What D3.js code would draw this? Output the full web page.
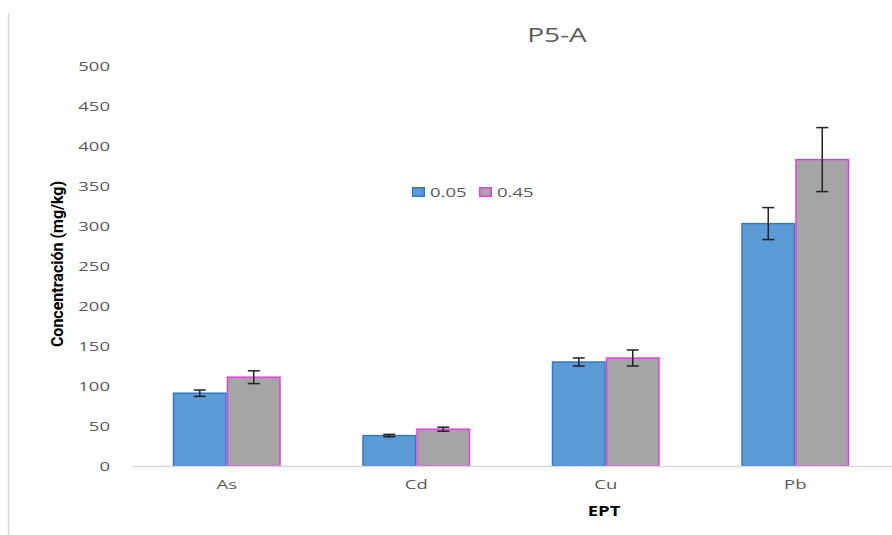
<!DOCTYPE html>
<html>
<head>
<meta charset="utf-8">
<script src="https://cdn.jsdelivr.net/npm/d3@7"></script>
<style>
  html, body { margin: 0; padding: 0; background: #fff; }
  svg { display: block; }
</style>
</head>
<body>
<svg id="chart" width="892" height="535"></svg>
<script>
// Concentration of potentially toxic elements (EPT) at site P5-A
const categories = ["As", "Cd", "Cu", "Pb"];
const seriesNames = ["0.05", "0.45"];
const values005 = [91, 38, 130, 303];
const values045 = [111, 46, 135, 383];
const errors005 = [4, 1.5, 5, 20];
const errors045 = [8, 2.5, 10, 40];
const yTicks = [0, 50, 100, 150, 200, 250, 300, 350, 400, 450, 500];

const fills = ["#5b9bd5", "#a5a5a5"];
const strokes = ["#2e7bc9", "#e23fe0"];

const FONT = "'Open Sans', 'Noto Sans', sans-serif";
const WIDE = 1.37; // horizontal stretch of the text glyphs

const svg = d3.select("#chart");
const W = 892, H = 535;
const plot = { left: 132, right: 890, top: 66, bottom: 466 };

const x = d3.scaleBand().domain(categories).range([plot.left, plot.right]);
const y = d3.scaleLinear().domain([0, 500]).range([plot.bottom, plot.top]);
const barW = 54;
const xSub = d3.scaleBand().domain(seriesNames).range([-barW, barW]);

// stretched text placed at (px, py)
function wideText(parent, px, py, str, opts) {
  const t = parent.append("text")
    .attr("transform", `translate(${px},${py}) scale(${WIDE},1)`)
    .attr("font-family", FONT)
    .attr("font-size", opts.size)
    .attr("fill", opts.fill || "#595959")
    .attr("text-anchor", opts.anchor || "start")
    .text(str);
  if (opts.weight) t.attr("font-weight", opts.weight);
  return t;
}

// outer frame (only the left edge falls inside the view)
svg.append("line")
  .attr("x1", 8.5).attr("x2", 8.5).attr("y1", 13).attr("y2", H)
  .attr("stroke", "#d9d9d9").attr("stroke-width", 1.5);

// title
wideText(svg, 557, 42, "P5-A", { size: 20.5, anchor: "middle" });

// y axis tick labels
const yAxis = d3.axisLeft(y).tickValues(yTicks).tickSize(0).tickPadding(0);
const gy = svg.append("g").attr("transform", `translate(${110},0)`).call(yAxis);
gy.select(".domain").remove();
gy.selectAll("text")
  .attr("font-family", FONT)
  .attr("font-size", 13.5)
  .attr("fill", "#595959")
  .attr("transform", `scale(${WIDE},1)`);

// bars
const data = categories.map((c, i) => ({
  cat: c,
  items: [
    { s: seriesNames[0], v: values005[i], e: errors005[i], k: 0 },
    { s: seriesNames[1], v: values045[i], e: errors045[i], k: 1 }
  ]
}));

const groups = svg.append("g").selectAll("g")
  .data(data).join("g")
  .attr("transform", d => `translate(${x(d.cat) + x.bandwidth() / 2},0)`);

groups.selectAll("rect")
  .data(d => d.items).join("rect")
  .attr("x", d => xSub(d.s) + 0.75)
  .attr("width", xSub.bandwidth() - 1.5)
  .attr("y", d => y(d.v))
  .attr("height", d => y(0) - y(d.v))
  .attr("fill", d => fills[d.k])
  .attr("stroke", d => strokes[d.k])
  .attr("stroke-width", 1.5);

// x axis line
svg.append("line")
  .attr("x1", plot.left).attr("x2", W)
  .attr("y1", y(0) + 0.5).attr("y2", y(0) + 0.5)
  .attr("stroke", "#d9d9d9").attr("stroke-width", 1.5);

// error bars
const eb = groups.selectAll("g.err")
  .data(d => d.items).join("g").attr("class", "err")
  .attr("transform", d => `translate(${xSub(d.s) + xSub.bandwidth() / 2},0)`);
eb.append("line")
  .attr("x1", 0).attr("x2", 0)
  .attr("y1", d => y(d.v + d.e)).attr("y2", d => y(d.v - d.e))
  .attr("stroke", "#222").attr("stroke-width", 1.5);
eb.append("line")
  .attr("x1", -6).attr("x2", 6)
  .attr("y1", d => y(d.v + d.e)).attr("y2", d => y(d.v + d.e))
  .attr("stroke", "#222").attr("stroke-width", 1.5);
eb.append("line")
  .attr("x1", -6).attr("x2", 6)
  .attr("y1", d => y(d.v - d.e)).attr("y2", d => y(d.v - d.e))
  .attr("stroke", "#222").attr("stroke-width", 1.5);

// x axis category labels
const xAxis = d3.axisBottom(x).tickSize(0).tickPadding(0);
const gx = svg.append("g").attr("transform", `translate(0,${y(0) + 13})`).call(xAxis);
gx.select(".domain").remove();
gx.selectAll("text")
  .attr("font-family", FONT)
  .attr("font-size", 13.5)
  .attr("fill", "#595959")
  .attr("transform", `scale(${WIDE},1)`);

// axis titles
wideText(svg, 604, 516, "EPT", { size: 13.5, anchor: "middle", weight: "bold", fill: "#000" });

svg.append("text")
  .attr("transform", "translate(63,264) rotate(-90)")
  .attr("text-anchor", "middle")
  .attr("font-family", "'Liberation Sans Narrow', 'Roboto', sans-serif")
  .attr("font-weight", "bold")
  .attr("font-size", 16)
  .attr("fill", "#000")
  .text("Concentración (mg/kg)");

// legend
const legend = svg.append("g").attr("transform", "translate(412,187)");
const li = legend.selectAll("g").data(seriesNames).join("g")
  .attr("transform", (d, i) => `translate(${i * 67},0)`);
li.append("rect")
  .attr("x", 0.75).attr("y", 0.75).attr("width", 11.5).attr("height", 8.5)
  .attr("fill", (d, i) => fills[i])
  .attr("stroke", (d, i) => strokes[i]).attr("stroke-width", 1.5);
li.each(function (d) {
  wideText(d3.select(this), 18, 9.5, d, { size: 13.5 });
});
</script>
</body>
</html>
